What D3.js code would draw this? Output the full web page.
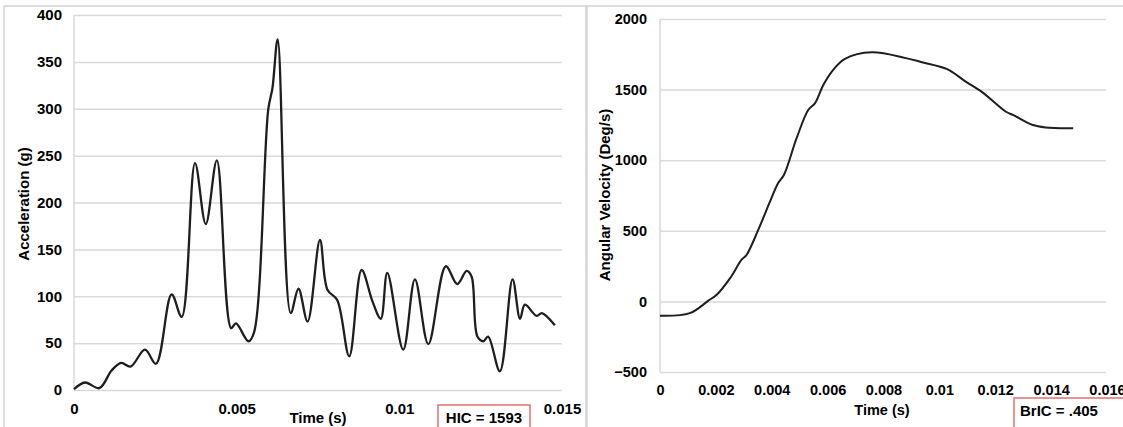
<!DOCTYPE html>
<html>
<head>
<meta charset="utf-8">
<script src="https://cdn.jsdelivr.net/npm/d3@7"></script>
<style>
  html, body { margin: 0; padding: 0; background: #fff; }
  svg { display: block; font-family: "Liberation Sans", Arial, sans-serif; font-weight: bold; }
</style>
</head>
<body>
<svg id="chart" width="1123" height="427"></svg>
<script>
// Linear acceleration of the head (g) over time (s)
const accTime = [0, 0.00034, 0.00078, 0.00116, 0.00145, 0.00174, 0.00218, 0.00252, 0.0030, 0.00331,
  0.00372, 0.00405, 0.00439, 0.00483, 0.00498, 0.00536, 0.00553, 0.00597, 0.0061, 0.00626,
  0.00666, 0.0069, 0.00718, 0.00756, 0.00779, 0.00809, 0.00846, 0.00884, 0.00918, 0.00943,
  0.00963, 0.01012, 0.01048, 0.01089, 0.01143, 0.01178, 0.01207, 0.01222, 0.0124, 0.01258,
  0.01273, 0.01309, 0.01348, 0.01371, 0.01386, 0.01422, 0.01438, 0.01478];
const accG = [1, 8, 2, 21, 29, 25, 43, 28, 102, 78,
  242, 177, 245, 66, 71, 52, 61, 299, 322, 374,
  82, 108, 73, 160, 107, 96, 36, 128, 94, 76,
  125, 43, 118, 49, 132, 113, 127, 121, 57, 52,
  57, 20, 118, 76, 91, 79, 82, 69];

// Angular velocity of the head (deg/s) over time (s)
const angTime = [0, 0.00107, 0.00173, 0.00203, 0.00251, 0.00292, 0.0031, 0.00352, 0.00394, 0.00423,
  0.00444, 0.00489, 0.00531, 0.00555, 0.00585, 0.0062, 0.00662, 0.00758, 0.0088, 0.00938,
  0.01028, 0.01093, 0.01153, 0.01237, 0.01267, 0.01332, 0.0138, 0.01479];
const angVel = [-101, -83, 5, 47, 165, 295, 330, 508, 708, 838,
  897, 1156, 1357, 1404, 1534, 1640, 1718, 1764, 1723, 1694,
  1645, 1558, 1482, 1345, 1317, 1251, 1232, 1227];

// Tick values and labels
const accYTicks = [0, 50, 100, 150, 200, 250, 300, 350, 400];
const accXTicks = [0, 0.005, 0.01, 0.015];
const accXLabels = ["0", "0.005", "0.01", "0.015"];
const angYTicks = [-500, 0, 500, 1000, 1500, 2000];
const angXTicks = [0, 0.002, 0.004, 0.006, 0.008, 0.01, 0.012, 0.014, 0.016];
const angXLabels = ["0", "0.002", "0.004", "0.006", "0.008", "0.01", "0.012", "0.014", "0.016"];

const svg = d3.select("#chart");
const gridColor = "#d9d9d9";
const frameColor = "#d4d4d4";

function panel(opts) {
  const g = svg.append("g");
  // outer chart frame
  g.append("rect")
    .attr("x", opts.frame[0]).attr("y", opts.frame[1])
    .attr("width", opts.frame[2]).attr("height", opts.frame[3])
    .attr("fill", "none").attr("stroke", frameColor).attr("stroke-width", 1.5);

  const x = d3.scaleLinear().domain(opts.xDomain).range(opts.xRange);
  const y = d3.scaleLinear().domain(opts.yDomain).range(opts.yRange);

  // horizontal gridlines + y tick labels
  const yAxis = g.append("g")
    .attr("transform", `translate(${opts.xRange[0]},0)`)
    .call(d3.axisLeft(y).tickValues(opts.yTicks)
      .tickSize(-(opts.gridRight - opts.xRange[0])).tickPadding(opts.yPad)
      .tickFormat(d3.format("d")));
  yAxis.select(".domain").remove();
  yAxis.selectAll(".tick line").attr("stroke", gridColor).attr("stroke-width", 1.5);
  yAxis.selectAll(".tick text").attr("fill", "#000").style("font-size", opts.tickFont + "px")
    .style("font-family", "'Liberation Sans', Arial, sans-serif").style("font-weight", "bold");

  // vertical axis line
  g.append("line")
    .attr("x1", opts.xRange[0]).attr("x2", opts.xRange[0])
    .attr("y1", y(opts.yDomain[1])).attr("y2", y(opts.yDomain[0]))
    .attr("stroke", gridColor).attr("stroke-width", 1.5);

  // x tick labels
  const xAxis = g.append("g")
    .attr("transform", `translate(0,${opts.xLabelY})`)
    .call(d3.axisBottom(x).tickValues(opts.xTicks).tickSize(0).tickPadding(0)
      .tickFormat((d, i) => opts.xLabels[i]));
  xAxis.select(".domain").remove();
  xAxis.selectAll(".tick text").attr("fill", "#000").attr("dy", "0.32em").attr("y", 0)
    .style("font-size", opts.tickFont + "px")
    .style("font-family", "'Liberation Sans', Arial, sans-serif").style("font-weight", "bold");

  // data line
  const line = d3.line()
    .x(d => x(d[0])).y(d => y(d[1]))
    .curve(d3.curveCatmullRom.alpha(0.5));
  g.append("path")
    .datum(opts.xs.map((t, i) => [t, opts.ys[i]]))
    .attr("d", line)
    .attr("fill", "none").attr("stroke", "#1e1e1e")
    .attr("stroke-width", opts.lineWidth).attr("stroke-linejoin", "round");

  // axis titles
  g.append("text")
    .attr("transform", `translate(${opts.yTitlePos[0]},${opts.yTitlePos[1]}) rotate(-90)`)
    .attr("text-anchor", "middle").attr("dy", "0.35em")
    .style("font-size", "15px").text(opts.yTitle);
  g.append("text")
    .attr("x", opts.xTitlePos[0]).attr("y", opts.xTitlePos[1])
    .attr("text-anchor", "middle")
    .style("font-size", opts.xTitleFont + "px").text("Time (s)");

  // injury criterion annotation
  g.append("rect")
    .attr("x", opts.box[0]).attr("y", opts.box[1])
    .attr("width", opts.box[2]).attr("height", opts.box[3])
    .attr("fill", "#fff").attr("stroke", "#e07070").attr("stroke-width", 1.5);
  g.append("text")
    .attr("x", opts.boxText[0]).attr("y", opts.boxText[1])
    .attr("text-anchor", opts.boxAnchor)
    .style("font-size", "15px").text(opts.boxLabel);
}

panel({
  frame: [4, 6, 583, 440],
  xDomain: [0, 0.015], xRange: [74, 562], gridRight: 562,
  yDomain: [0, 400], yRange: [390, 15],
  yTicks: accYTicks, yPad: 12,
  xTicks: accXTicks, xLabels: accXLabels, xLabelY: 409,
  tickFont: 15,
  xs: accTime, ys: accG, lineWidth: 2.3,
  yTitle: "Acceleration (g)", yTitlePos: [24, 204],
  xTitlePos: [318, 423], xTitleFont: 15,
  box: [438, 405, 92, 26], boxText: [484, 423], boxAnchor: "middle",
  boxLabel: "HIC = 1593"
});

panel({
  frame: [586, 6, 560, 440],
  xDomain: [0, 0.016], xRange: [660, 1107], gridRight: 1106,
  yDomain: [-500, 2000], yRange: [372, 19],
  yTicks: angYTicks, yPad: 13,
  xTicks: angXTicks, xLabels: angXLabels, xLabelY: 390,
  tickFont: 14.5,
  xs: angTime, ys: angVel, lineWidth: 2,
  yTitle: "Angular Velocity (Deg/s)", yTitlePos: [605, 195],
  xTitlePos: [882, 415], xTitleFont: 14.5,
  box: [1014, 398, 115, 34], boxText: [1020, 416], boxAnchor: "start",
  boxLabel: "BrIC = .405"
});
</script>
</body>
</html>
